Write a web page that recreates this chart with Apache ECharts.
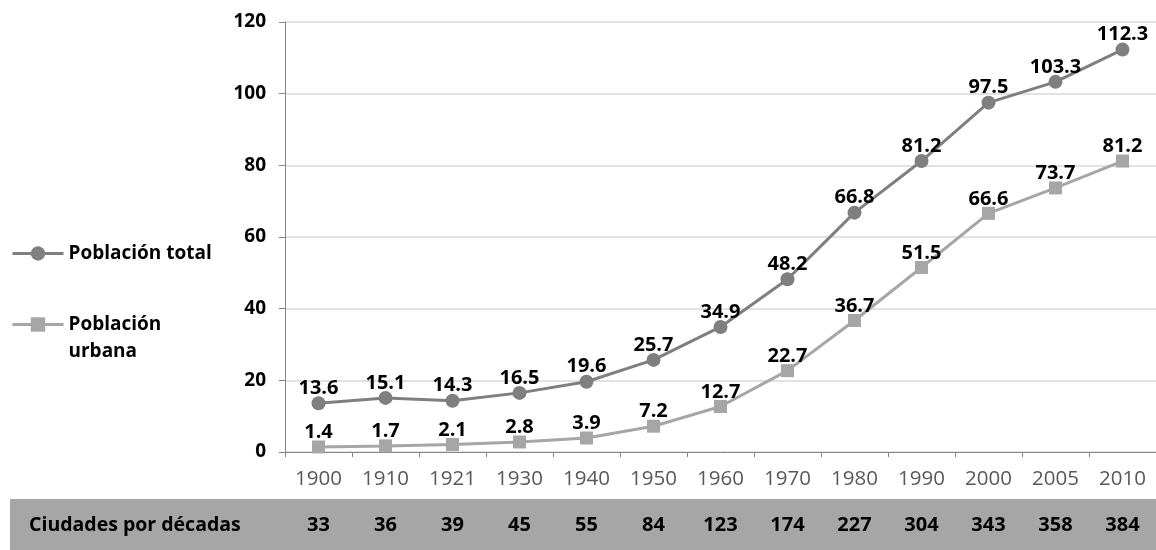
<!DOCTYPE html>
<html>
<head>
<meta charset="utf-8">
<script src="https://cdn.jsdelivr.net/npm/echarts@6/dist/echarts.min.js"></script>
<style>
  html, body { margin: 0; padding: 0; background: #fff; }
  #chart { width: 1156px; height: 550px; }
</style>
</head>
<body>
<div id="chart"></div>
<script>
// Years shown on the category axis
const years = ['1900', '1910', '1921', '1930', '1940', '1950', '1960', '1970', '1980', '1990', '2000', '2005', '2010'];
// Population in millions
const poblacionTotal = [13.6, 15.1, 14.3, 16.5, 19.6, 25.7, 34.9, 48.2, 66.8, 81.2, 97.5, 103.3, 112.3];
const poblacionUrbana = [1.4, 1.7, 2.1, 2.8, 3.9, 7.2, 12.7, 22.7, 36.7, 51.5, 66.6, 73.7, 81.2];
// Number of cities per decade (table row under the axis)
const ciudades = [33, 36, 39, 45, 55, 84, 123, 174, 227, 304, 343, 358, 384];
const yTicks = { min: 0, max: 120, interval: 20 };

const FONT = 'Open Sans';
const TOTAL_COLOR = '#7f7f7f';
const URBAN_COLOR = '#a6a6a6';

const chart = echarts.init(document.getElementById('chart'));

const valueLabel = {
  show: true,
  position: 'top',
  distance: -2,
  color: '#000',
  fontFamily: FONT,
  fontWeight: 'bold',
  fontSize: 20
};

const legendText = { fontFamily: FONT, fontWeight: 'bold', fontSize: 19, color: '#000', lineHeight: 27 };

chart.setOption({
  animation: false,
  backgroundColor: '#fff',
  grid: { left: 285, right: 0, top: 22, bottom: 98 },
  legend: [
    {
      left: 11, top: 240, padding: 0,
      itemWidth: 51, itemHeight: 18,
      data: ['Población total'],
      lineStyle: { width: 3 },
      textStyle: legendText
    },
    {
      left: 11, top: 284, padding: 0,
      itemWidth: 51, itemHeight: 18,
      data: ['Población urbana'],
      lineStyle: { width: 3 },
      formatter: () => ' \nPoblación\nurbana',
      textStyle: legendText
    }
  ],
  graphic: [
    {
      type: 'rect', z: -10, silent: true,
      shape: { x: 10, y: 499, width: 1146, height: 51 },
      style: { fill: '#a6a6a6' }
    },
    {
      type: 'text', z: 10, silent: true,
      x: 29, y: 525,
      style: {
        text: 'Ciudades por décadas',
        fill: '#000', font: 'bold 19.5px "Open Sans"',
        verticalAlign: 'middle', align: 'left'
      }
    }
  ],
  xAxis: [
    {
      type: 'category',
      data: years,
      boundaryGap: true,
      axisLine: { lineStyle: { color: '#868686', width: 1 } },
      axisTick: { show: true, length: 5, alignWithLabel: false, lineStyle: { color: '#868686' } },
      axisLabel: { color: '#595959', fontFamily: FONT, fontSize: 20.5, margin: 17 },
      splitLine: { show: false }
    },
    {
      type: 'category',
      data: years,
      position: 'bottom',
      offset: 54,
      boundaryGap: true,
      axisLine: { show: false },
      axisTick: { show: false },
      axisLabel: {
        color: '#000', fontFamily: FONT, fontWeight: 'bold', fontSize: 20, margin: 9,
        formatter: (v, i) => String(ciudades[i])
      },
      splitLine: { show: false }
    }
  ],
  yAxis: {
    type: 'value',
    min: yTicks.min, max: yTicks.max, interval: yTicks.interval,
    axisLine: { show: true, lineStyle: { color: '#868686', width: 1 } },
    axisTick: { show: true, length: 6, lineStyle: { color: '#868686' } },
    axisLabel: { color: '#000', fontFamily: FONT, fontWeight: 'bold', fontSize: 19, margin: 19 },
    splitLine: { lineStyle: { color: '#d9d9d9', width: 1.5 } }
  },
  series: [
    {
      name: 'Población total',
      type: 'line',
      data: poblacionTotal,
      symbol: 'circle',
      symbolSize: 14,
      lineStyle: { color: TOTAL_COLOR, width: 3 },
      itemStyle: { color: TOTAL_COLOR },
      label: valueLabel,
      z: 3
    },
    {
      name: 'Población urbana',
      type: 'line',
      data: poblacionUrbana,
      symbol: 'rect',
      symbolSize: 13,
      lineStyle: { color: URBAN_COLOR, width: 3 },
      itemStyle: { color: URBAN_COLOR },
      label: valueLabel,
      z: 2
    }
  ]
});
</script>
</body>
</html>
